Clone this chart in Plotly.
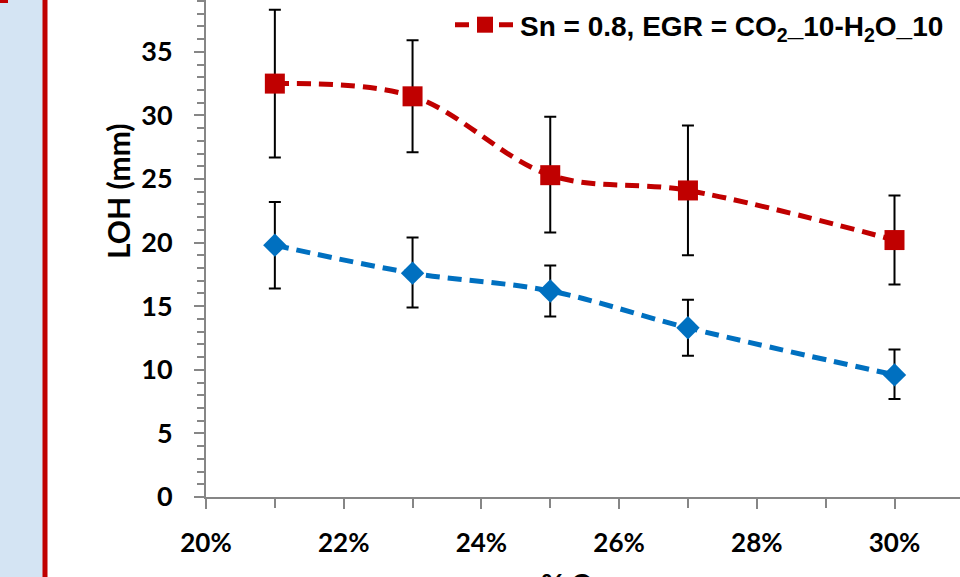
import plotly.graph_objects as go

# ---- data ----
o2 = [0.21, 0.23, 0.25, 0.27, 0.30]
red_loh = [32.5, 31.5, 25.3, 24.1, 20.2]
red_err_plus = [5.8, 4.4, 4.6, 5.1, 3.5]
red_err_minus = [5.8, 4.4, 4.5, 5.1, 3.5]
blue_loh = [19.8, 17.6, 16.2, 13.3, 9.6]
blue_err_plus = [3.4, 2.8, 2.0, 2.2, 2.0]
blue_err_minus = [3.4, 2.7, 2.0, 2.2, 1.9]
red_name = "Sn = 0.8, EGR = CO<sub>2</sub>_10-H<sub>2</sub>O_10"
blue_name = "Sn = 0.8, EGR = 0"
y_ticks = [0, 5, 10, 15, 20, 25, 30, 35]

W, H = 960, 577
L, R, T, B = 206, 0, 0, 80
pw, ph = W - L - R, H - T - B

def px_x(p):
    return (p - L) / pw

def px_y(p):
    return (H - B - p) / ph

RED = "#C00000"
BLUE = "#0070C0"
AX = "#868686"
tickfont = dict(family="Lato", size=27, color="black", weight=700)

fig = go.Figure()
fig.add_trace(go.Scatter(
    x=o2, y=blue_loh, name=blue_name, showlegend=False,
    mode="lines+markers", line=dict(color=BLUE, width=5, dash="14px,8px", shape="spline"),
    marker=dict(symbol="diamond", size=18, color=BLUE),
    error_y=dict(type="data", array=blue_err_plus, arrayminus=blue_err_minus,
                 color="black", thickness=2, width=6),
))
fig.add_trace(go.Scatter(
    x=o2, y=red_loh, name=red_name,
    mode="lines+markers", line=dict(color=RED, width=5, dash="14px,8px", shape="spline"),
    marker=dict(symbol="square", size=20, color=RED),
    error_y=dict(type="data", array=red_err_plus, arrayminus=red_err_minus,
                 color="black", thickness=2, width=6),
))

fig.update_layout(
    width=W, height=H,
    margin=dict(l=L, r=R, t=T, b=B, pad=0),
    paper_bgcolor="white", plot_bgcolor="white",
    showlegend=True,
    legend=dict(x=px_x(450), y=1.0, xanchor="left", yanchor="top",
                bgcolor="rgba(0,0,0,0)",
                font=dict(family="Liberation Sans", size=28, color="black", weight=700),
                itemwidth=60),
    xaxis=dict(range=[0.20, 0.20 + (W - L) / 6885.0], tickformat=".0%", tick0=0.20, dtick=0.02,
               showgrid=False, zeroline=False, showline=True, linecolor=AX, linewidth=2,
               ticks="outside", ticklen=10, tickwidth=1.5, tickcolor=AX,
               minor=dict(dtick=0.01, ticks="outside", ticklen=9, tickwidth=1.5, tickcolor=AX),
               tickfont=dict(family="Lato", size=26, color="black", weight=700),
               ticklabelstandoff=12),
    yaxis=dict(range=[0, 497 / 12.72], tickvals=y_ticks,
               showgrid=False, zeroline=False, showline=True, linecolor=AX, linewidth=2,
               ticks="outside", ticklen=10, tickwidth=1.5, tickcolor=AX,
               minor=dict(dtick=1, ticks="outside", ticklen=7, tickwidth=1.5, tickcolor=AX),
               tickfont=tickfont, ticklabelstandoff=16),
)

# left decorative panel
fig.add_shape(type="rect", xref="paper", yref="paper",
              x0=px_x(0), x1=px_x(43), y0=px_y(H), y1=px_y(0),
              fillcolor="#D4E4F3", line_width=0, layer="below")
fig.add_shape(type="rect", xref="paper", yref="paper",
              x0=px_x(42.5), x1=px_x(47.5), y0=px_y(H), y1=px_y(0),
              fillcolor=RED, line_width=0)
fig.add_shape(type="rect", xref="paper", yref="paper",
              x0=px_x(0), x1=px_x(8), y0=px_y(3), y1=px_y(-5),
              fillcolor=RED, line_width=0)

fig.add_annotation(text="LOH (mm)", xref="paper", yref="paper",
                   x=px_x(118), y=px_y(191), textangle=-90, showarrow=False,
                   font=dict(family="Lato", size=30, color="black", weight=700),
                   xanchor="center", yanchor="middle")
fig.add_annotation(text="% O<sub>2</sub>", xref="paper", yref="paper",
                   x=px_x(573), y=px_y(565), showarrow=False,
                   font=dict(family="Lato", size=28, color="black", weight=700),
                   xanchor="center", yanchor="top")

fig.write_html("out.html", config={"displayModeBar": False},
               post_script="document.body.style.margin='0';")
